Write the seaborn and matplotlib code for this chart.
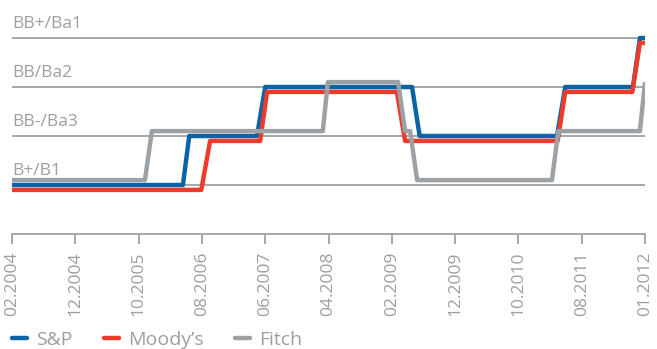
# Credit ratings history of S&P, Moody's and Fitch, drawn as stepped lines
# over evenly spaced reporting dates

import pandas as pd
import matplotlib
matplotlib.use("Agg")
import matplotlib.pyplot as plt
import seaborn as sns

# rating scale, lowest first
rating_labels = ["B+/B1", "BB-/Ba3", "BB/Ba2", "BB+/Ba1"]
date_labels = ["02.2004", "12.2004", "10.2005", "08.2006", "06.2007", "04.2008",
               "02.2009", "12.2009", "10.2010", "08.2011", "01.2012"]

# time is in units of the date tick spacing (0 = 02.2004, 10 = 01.2012)
sp_time = [0, 2.70, 2.80, 3.87, 4.00, 6.32, 6.44, 8.61, 8.74, 9.81, 9.92, 10]
sp_rating = [0, 0, 1, 1, 2, 2, 1, 1, 2, 2, 3, 3]

moodys_time = [0, 2.99, 3.13, 3.92, 4.03, 6.08, 6.21, 8.62, 8.74, 9.80, 9.92, 10]
moodys_rating = [0, 0, 1, 1, 2, 2, 1, 1, 2, 2, 3, 3]

fitch_time = [0, 2.10, 2.21, 4.91, 4.99, 6.10, 6.21, 6.29, 6.40, 8.53, 8.63, 9.92, 10]
fitch_rating = [0, 0, 1, 1, 2, 2, 1, 1, 0, 0, 1, 1, 2]

agencies = ["S&P", "Moody’s", "Fitch"]
colors = {"S&P": "#0a64a6", "Moody’s": "#ec3a2b", "Fitch": "#9ca1a6"}
# small vertical shift so overlapping lines stay visible
shift = {"S&P": 0.0, "Moody’s": -0.1, "Fitch": 0.1}

frames = []
for name, t, r in [("S&P", sp_time, sp_rating),
                   ("Moody’s", moodys_time, moodys_rating),
                   ("Fitch", fitch_time, fitch_rating)]:
    d = pd.DataFrame({"time": t, "rating": r})
    d["agency"] = name
    d["y"] = d["rating"] + shift[name]
    frames.append(d)
df = pd.concat(frames, ignore_index=True)

sns.set_style("white")
plt.rcParams["font.family"] = ["Open Sans", "DejaVu Sans"]
grey = "#9a9fa4"

fig = plt.figure(figsize=(6.57, 3.49), dpi=100)
ax = fig.add_axes([12 / 657, 115 / 349, 633 / 657, 234 / 349])

for i, lab in enumerate(rating_labels):
    ax.axhline(i, color="#a3a7ab", lw=1.4, zorder=1)
    ax.text(0, i + 0.2, lab, color=grey, fontsize=12.5, ha="left", va="baseline")

sns.lineplot(data=df, x="time", y="y", hue="agency", hue_order=agencies,
             palette=colors, estimator=None, sort=False, lw=3.2,
             legend=False, ax=ax, zorder=3)
for ln in ax.get_lines():
    ln.set_solid_capstyle("butt")

ax.set_xlim(0, 10)
ax.set_ylim(-1, 3.776)
ax.set_xticks(range(len(date_labels)))
ax.set_xticklabels(date_labels, rotation=90)
ax.set_yticks([])
ax.set_xlabel("")
ax.set_ylabel("")
for s in ["top", "right", "left"]:
    ax.spines[s].set_visible(False)
ax.spines["bottom"].set_color("#a3a7ab")
ax.spines["bottom"].set_linewidth(1.4)
ax.tick_params(axis="x", colors="#a3a7ab", labelcolor=grey, length=7.5,
               width=1.4, pad=5, labelsize=12.5, bottom=True)

handles = [plt.Line2D([], [], color=colors[a], lw=3.2) for a in agencies]
fig.legend(handles, agencies, loc="center left", bbox_to_anchor=(0.018, 0.026),
           ncol=3, frameon=False, fontsize=14, labelcolor=grey,
           handlelength=0.8, handletextpad=0.45, columnspacing=1.6,
           borderaxespad=0, borderpad=0)

fig.savefig("out.png", dpi=100)
